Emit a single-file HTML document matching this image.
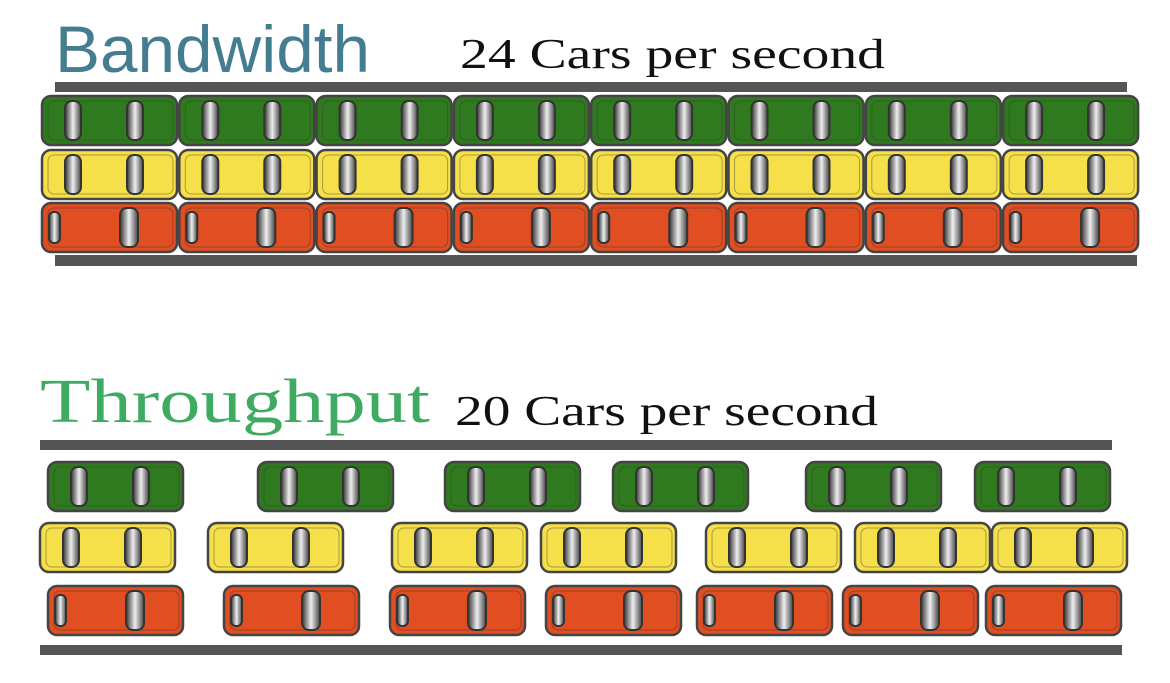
<!DOCTYPE html>
<html><head><style>html,body{margin:0;padding:0;background:#fff}svg{display:block}</style></head>
<body>
<svg width="1170" height="683" viewBox="0 0 1170 683" xmlns="http://www.w3.org/2000/svg">
<defs>
<linearGradient id="gl" x1="0" y1="0" x2="1" y2="0">
<stop offset="0" stop-color="#333"/><stop offset="0.5" stop-color="#eee"/><stop offset="1" stop-color="#444"/></linearGradient>
<g id="carbase">
<rect x="0" y="0" width="135" height="49" rx="9" fill="none" stroke="#444" stroke-width="2.5"/>
<rect x="6" y="5" width="125" height="39" rx="6" fill="none" stroke="#333" stroke-width="1" opacity="0.4"/>
<rect x="23" y="5" width="16" height="39" rx="7" fill="url(#gl)" stroke="#333" stroke-width="2"/>
<rect x="85" y="5" width="16" height="39" rx="7" fill="url(#gl)" stroke="#333" stroke-width="2"/>
</g>
<g id="carbaseR">
<rect x="0" y="0" width="135" height="49" rx="9" fill="none" stroke="#444" stroke-width="2.5"/>
<rect x="6" y="5" width="125" height="39" rx="6" fill="none" stroke="#333" stroke-width="1" opacity="0.4"/>
<rect x="7" y="9" width="11" height="31" rx="5" fill="url(#gl)" stroke="#333" stroke-width="2"/>
<rect x="78" y="5" width="18" height="39" rx="7" fill="url(#gl)" stroke="#333" stroke-width="2"/>
</g>
</defs>
<text x="55" y="72" font-family="Liberation Sans, sans-serif" font-size="66" fill="#457d90" textLength="315" lengthAdjust="spacingAndGlyphs">Bandwidth</text>
<text x="460" y="68" font-family="Liberation Serif, serif" font-size="42" fill="#111" textLength="425" lengthAdjust="spacingAndGlyphs">24 Cars per second</text>
<text x="40" y="422" font-family="Liberation Serif, serif" font-size="62" fill="#3fab62" textLength="390" lengthAdjust="spacingAndGlyphs">Throughput</text>
<text x="455" y="425" font-family="Liberation Serif, serif" font-size="42" fill="#111" textLength="423" lengthAdjust="spacingAndGlyphs">20 Cars per second</text>
<rect x="55" y="82" width="1072" height="10" fill="#555"/>
<rect x="55" y="255" width="1082" height="11" fill="#555"/>
<rect x="40" y="440" width="1072" height="10" fill="#555"/>
<rect x="40" y="645" width="1082" height="10" fill="#555"/>
</svg>
<script>
const svg=document.querySelector('svg');const ns="http://www.w3.org/2000/svg";
function car(x,y,c,red){const g=document.createElementNS(ns,'g');g.setAttribute('transform',`translate(${x},${y})`);
const r=document.createElementNS(ns,'rect');r.setAttribute('width',135);r.setAttribute('height',49);r.setAttribute('rx',9);r.setAttribute('fill',c);g.appendChild(r);
const u=document.createElementNS(ns,'use');u.setAttribute('href',red?'#carbaseR':'#carbase');g.appendChild(u);
svg.appendChild(g);}
const G="#2f7a1e",Y="#f6e04a",R="#e04e22";
for(let i=0;i<8;i++){const x=42+i*137.3;car(x,96,G);car(x,150,Y);car(x,203,R,1);}
[48,258,445,613,806,975].forEach(x=>car(x,462,G));
[40,208,392,541,706,855,992].forEach(x=>car(x,523,Y));
[48,224,390,546,697,843,986].forEach(x=>car(x,586,R,1));
</script>
</body></html>
